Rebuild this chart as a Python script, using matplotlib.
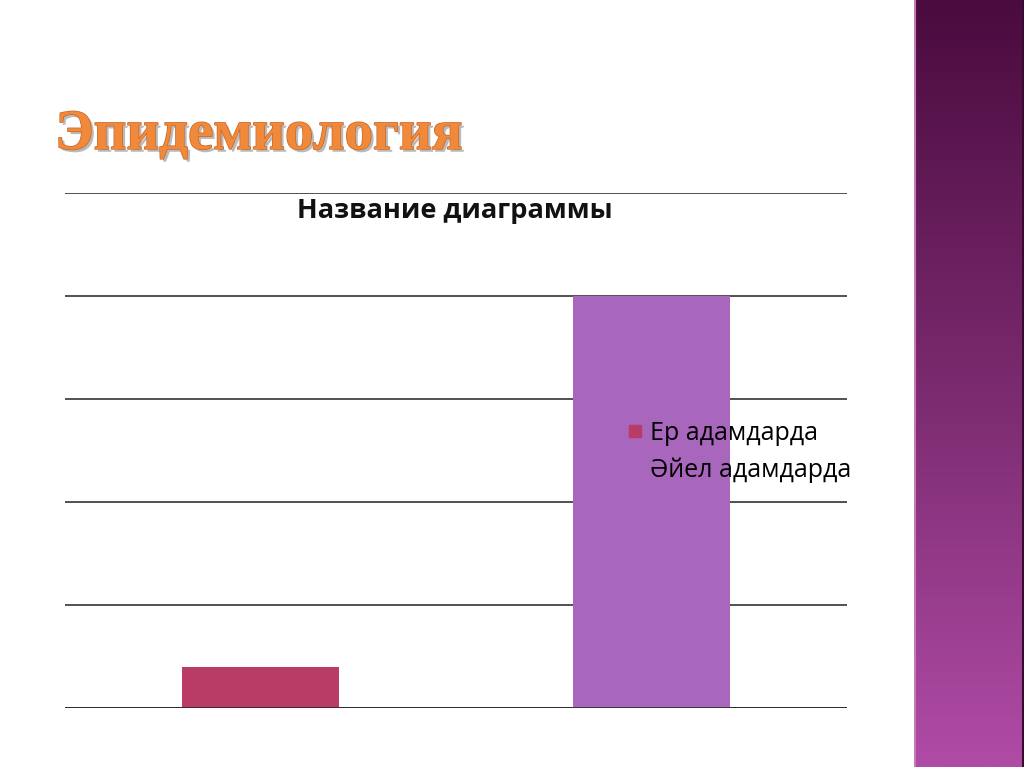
import numpy as np
import matplotlib
matplotlib.use("Agg")
import matplotlib.pyplot as plt
import matplotlib.patheffects as pe
from matplotlib.colors import LinearSegmentedColormap
from matplotlib.lines import Line2D

# --- data ---
categories = ["Ер адамдарда", "Әйел адамдарда"]
values = [0.4, 4.0]
bar_colors = ["#b83c65", "#a866bc"]
slide_title = "Эпидемиология"
chart_title = "Название диаграммы"

SANS = ["Open Sans", "DejaVu Sans"]

fig = plt.figure(figsize=(10.24, 7.67), dpi=100)
fig.patch.set_facecolor("white")

# purple gradient strip on the right
side = fig.add_axes([914 / 1024, 0, 110 / 1024, 1])
cmap = LinearSegmentedColormap.from_list("side", ["#4a0b3e", "#7a2a6e", "#b04ba6"])
side.imshow(np.linspace(0, 1, 256).reshape(-1, 1), aspect="auto", cmap=cmap,
            extent=[0, 1, 0, 1], origin="upper")
side.axvline(0.01, color="#c47ab8", lw=1.5)
side.axvline(0.995, color="#3a0830", lw=1.5)
side.set_axis_off()

# slide heading
fig.text(55 / 1024, 1 - 135 / 767, slide_title, family="Liberation Serif",
         fontweight="bold", fontsize=41, color="#f0893a", va="center", ha="left",
         path_effects=[pe.withSimplePatchShadow(offset=(2, -2), shadow_rgbFace="#777777", alpha=0.5),
                       pe.Stroke(linewidth=1, foreground="#c8652b"), pe.Normal()])

# chart
ax = fig.add_axes([65 / 1024, 1 - 708 / 767, 782 / 1024, (708 - 193) / 767])
x = np.arange(len(categories))
ax.bar(x, values, width=0.4, color=bar_colors, zorder=2)
ax.set_xlim(-0.5, 1.5)
ax.set_ylim(0, 5)
ax.set_yticks(range(6))
ax.grid(axis="y", color="#222222", lw=1.1, zorder=1)
ax.set_axisbelow(True)
ax.tick_params(left=False, bottom=False, labelleft=False, labelbottom=False)
for s in ax.spines.values():
    s.set_visible(False)
ax.axhline(0, color="#222222", lw=1.1, zorder=3)

fig.text(455 / 1024, 1 - 211 / 767, chart_title, family=SANS, fontweight="bold",
         fontsize=19.5, ha="center", va="center", color="#111111")

handles = [Line2D([], [], marker="s", ls="none", markersize=9, color=c) for c in bar_colors]
leg = fig.legend(handles, categories, loc="center left",
                 bbox_to_anchor=(604 / 1024, 1 - 452 / 767), frameon=False,
                 prop={"family": SANS, "size": 18}, handlelength=0.7,
                 handletextpad=0.25, labelspacing=0.45)
leg.set_zorder(5)

fig.savefig("out.png", dpi=100)
